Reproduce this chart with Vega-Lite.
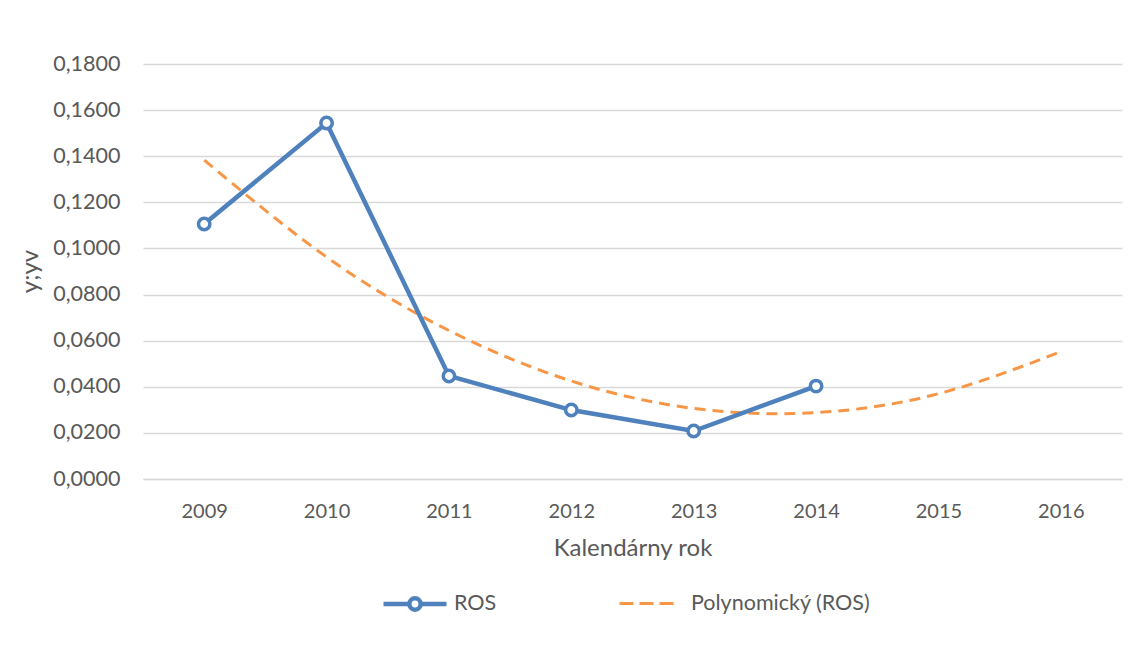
{
  "$schema": "https://vega.github.io/schema/vega-lite/v6.json",
  "width": 979,
  "height": 415,
  "autosize": {"type": "none"},
  "padding": {"left": 143, "top": 64, "right": 11, "bottom": 177},
  "background": "white",
  "config": {
    "font": "Lato",
    "view": {"stroke": null},
    "axis": {
      "labelColor": "#595959",
      "titleColor": "#595959",
      "labelFontSize": 20,
      "titleFontSize": 24,
      "titleFontWeight": "normal",
      "labelFont": "Lato",
      "titleFont": "Lato"
    }
  },
  "datasets": {
    "ros": [
      {"rok": 2009, "hodnota": 0.1106, "series": "ROS"},
      {"rok": 2010, "hodnota": 0.1544, "series": "ROS"},
      {"rok": 2011, "hodnota": 0.0447, "series": "ROS"},
      {"rok": 2012, "hodnota": 0.0299, "series": "ROS"},
      {"rok": 2013, "hodnota": 0.0208, "series": "ROS"},
      {"rok": 2014, "hodnota": 0.0403, "series": "ROS"}
    ],
    "trend": [
      {"rok": 2009, "hodnota": 0.1383, "series": "Polynomický (ROS)"},
      {"rok": 2010, "hodnota": 0.0963, "series": "Polynomický (ROS)"},
      {"rok": 2011, "hodnota": 0.0644, "series": "Polynomický (ROS)"},
      {"rok": 2012, "hodnota": 0.0425, "series": "Polynomický (ROS)"},
      {"rok": 2013, "hodnota": 0.0306, "series": "Polynomický (ROS)"},
      {"rok": 2014, "hodnota": 0.0288, "series": "Polynomický (ROS)"},
      {"rok": 2015, "hodnota": 0.0370, "series": "Polynomický (ROS)"},
      {"rok": 2016, "hodnota": 0.0552, "series": "Polynomický (ROS)"}
    ]
  },
  "encoding": {
    "x": {
      "field": "rok",
      "type": "ordinal",
      "scale": {"type": "point", "padding": 0.5, "domain": [2009, 2010, 2011, 2012, 2013, 2014, 2015, 2016]},
      "axis": {
        "title": "Kalendárny rok",
        "labelAngle": 0,
        "labelFontSize": 20,
        "ticks": false,
        "grid": false,
        "domainColor": "#d9d9d9",
        "domainWidth": 1.5,
        "labelPadding": 22,
        "titlePadding": 15
      }
    },
    "y": {
      "field": "hodnota",
      "type": "quantitative",
      "scale": {"domain": [0, 0.18], "nice": false, "zero": true},
      "axis": {
        "values": [0, 0.02, 0.04, 0.06, 0.08, 0.1, 0.12, 0.14, 0.16, 0.18],
        "labelExpr": "replace(format(datum.value, '.4f'), '.', ',')",
        "labelFontSize": 21.5,
        "domain": false,
        "ticks": false,
        "gridColor": "#d9d9d9",
        "gridWidth": 1.5,
        "labelPadding": 23,
        "title": "y;yv",
        "titleX": -101,
        "titleY": 207
      }
    }
  },
  "layer": [
    {
      "data": {"name": "trend"},
      "mark": {"type": "line", "interpolate": "natural", "strokeWidth": 3, "strokeDash": [11, 7]},
      "encoding": {
        "color": {
          "field": "series",
          "type": "nominal",
          "scale": {"domain": ["Polynomický (ROS)"], "range": ["#F79646"]},
          "legend": {
            "orient": "none",
            "legendX": 475,
            "legendY": 511,
            "title": null,
            "padding": 0,
            "symbolType": "stroke",
            "symbolSize": 2916,
            "symbolDash": [14, 6],
            "symbolStrokeWidth": 3,
            "labelFontSize": 21.5,
            "labelColor": "#595959",
            "labelFont": "Lato",
            "labelOffset": 16,
            "labelLimit": 400
          }
        }
      }
    },
    {
      "data": {"name": "ros"},
      "mark": {"type": "line", "strokeWidth": 4.5},
      "encoding": {
        "color": {
          "field": "series",
          "type": "nominal",
          "scale": {"domain": ["ROS"], "range": ["#4F81BD"]},
          "legend": {
            "orient": "none",
            "legendX": 238,
            "legendY": 506,
            "title": null,
            "padding": 0,
            "symbolType": "M-1,0H-0.18A0.18,0.18 0 1,1 0.18,0A0.18,0.18 0 1,1 -0.18,0M0.18,0H1",
            "symbolSize": 3969,
            "symbolStrokeWidth": 4.5,
            "symbolFillColor": "white",
            "labelFontSize": 21.5,
            "labelColor": "#595959",
            "labelFont": "Lato",
            "labelOffset": 5,
            "labelLimit": 400,
            "encode": {"symbols": {"update": {"fill": {"value": "white"}}}}
          }
        }
      }
    },
    {
      "data": {"name": "ros"},
      "mark": {"type": "point", "filled": true, "fill": "white", "stroke": "#4F81BD", "strokeWidth": 3.5, "size": 130, "opacity": 1}
    }
  ],
  "resolve": {"scale": {"color": "independent"}}
}
